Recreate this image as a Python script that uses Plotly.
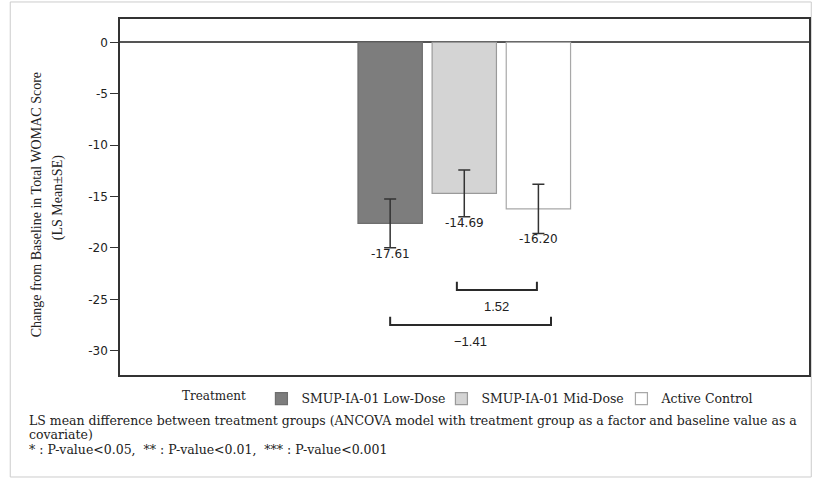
import plotly.graph_objects as go

# ---- data ----
groups = ["SMUP-IA-01 Low-Dose", "SMUP-IA-01 Mid-Dose", "Active Control"]
ls_means = [-17.61, -14.69, -16.20]
ls_se = [2.37, 2.27, 2.39]
value_labels = ["-17.61", "-14.69", "-16.20"]

# comparison brackets (x in bar-position units, y in score units)
diff_labels = ["1.52", "\u22121.41"]
bracket_x0 = [0.90, 0.0]
bracket_x1 = [1.98, 2.17]
bracket_y = [-24.1, -27.5]

y_ticks = [0, -5, -10, -15, -20, -25, -30]

# ---- styles ----
fills = ["#7d7d7d", "#d4d4d4", "#ffffff"]
borders = ["#6e6e6e", "#9a9a9a", "#a8a8a8"]
serif = "DejaVu Serif"
sans = "DejaVu Sans"

fig = go.Figure()
for i, (g, v, se) in enumerate(zip(groups, ls_means, ls_se)):
    fig.add_trace(go.Bar(
        x=[i], y=[v], name=g, width=0.868,
        marker=dict(color=fills[i], line=dict(color=borders[i], width=1.2)),
        error_y=dict(type="data", array=[se], color="#333333", thickness=1.5, width=6),
    ))

annotations = []
for i, (v, se, lab) in enumerate(zip(ls_means, ls_se, value_labels)):
    annotations.append(dict(x=i, y=v - se, xref="x", yref="y", text=lab, showarrow=False,
                            yanchor="top", xanchor="center", yshift=3,
                            font=dict(family=sans, size=12, color="#222222")))

for x0, x1, yb, lab in zip(bracket_x0, bracket_x1, bracket_y, diff_labels):
    fig.add_trace(go.Scatter(
        x=[x0, x0, x1, x1], y=[yb + 0.8, yb, yb, yb + 0.8], mode="lines",
        line=dict(color="#2a2a2a", width=2), showlegend=False, hoverinfo="skip"))
    annotations.append(dict(x=(x0 + x1) / 2, y=yb - 1.6, xref="x", yref="y", text=lab,
                            showarrow=False, xanchor="center", yanchor="middle",
                            font=dict(family="Liberation Sans", size=13, color="#222222")))

# y-axis title (two lines)
annotations.append(dict(x=-0.1216, y=0.4775, xref="paper", yref="paper",
                        text="Change from Baseline in Total WOMAC Score", textangle=-90,
                        showarrow=False, xanchor="center", yanchor="middle",
                        font=dict(family="Liberation Serif", size=14, color="#222222")))
annotations.append(dict(x=-0.0898, y=0.497, xref="paper", yref="paper",
                        text="(LS Mean\u00b1SE)", textangle=-90,
                        showarrow=False, xanchor="center", yanchor="middle",
                        font=dict(family="Liberation Serif", size=14, color="#222222")))

# footnotes
foot = [
    "LS mean difference between treatment groups (ANCOVA model with treatment group as a factor and baseline value as a",
    "covariate)",
    "* : P-value&lt;0.05,  ** : P-value&lt;0.01,  *** : P-value&lt;0.001",
]
foot_y = [-0.1278, -0.1685, -0.2093]
for t, yy in zip(foot, foot_y):
    annotations.append(dict(x=-0.1346, y=yy, xref="paper", yref="paper", text=t,
                            showarrow=False, xanchor="left", yanchor="middle",
                            font=dict(family=serif, size=12.5, color="#222222")))

fig.update_layout(
    width=815, height=479,
    margin=dict(l=120, r=4, t=19, b=104),
    paper_bgcolor="white", plot_bgcolor="white",
    barmode="overlay",
    showlegend=True,
    legend=dict(orientation="h", x=0.087, y=-0.0674, xanchor="left", yanchor="middle",
                title=dict(text="Treatment&nbsp;&nbsp;", side="left",
                           font=dict(family=serif, size=12, color="#222222")),
                font=dict(family=serif, size=12.5, color="#222222"),
                entrywidth=135, entrywidthmode="pixels",
                itemwidth=30, traceorder="normal"),
    annotations=annotations,
    shapes=[dict(type="rect", xref="paper", yref="paper",
                 x0=-0.1593, x1=1.0033, y0=-0.2865, y1=1.0478,
                 line=dict(color="#cccccc", width=1), fillcolor="rgba(0,0,0,0)", layer="below")],
)
fig.update_xaxes(range=[-3.645, 5.651], showticklabels=False, ticks="", showgrid=False,
                 zeroline=False, showline=True, mirror=True, linecolor="#333333", linewidth=1.5)
fig.update_yaxes(range=[-32.36, 2.27], tickvals=y_ticks, ticktext=[str(t) for t in y_ticks],
                 ticks="outside", ticklen=8, tickcolor="#333333", tickwidth=1,
                 showgrid=False, zeroline=True, zerolinecolor="#555555", zerolinewidth=1.5,
                 showline=True, mirror=True, linecolor="#333333", linewidth=1.5,
                 tickfont=dict(family=sans, size=12, color="#222222"))

fig.write_html("out.html", config={"displayModeBar": False},
               post_script="document.body.style.margin='0';")
